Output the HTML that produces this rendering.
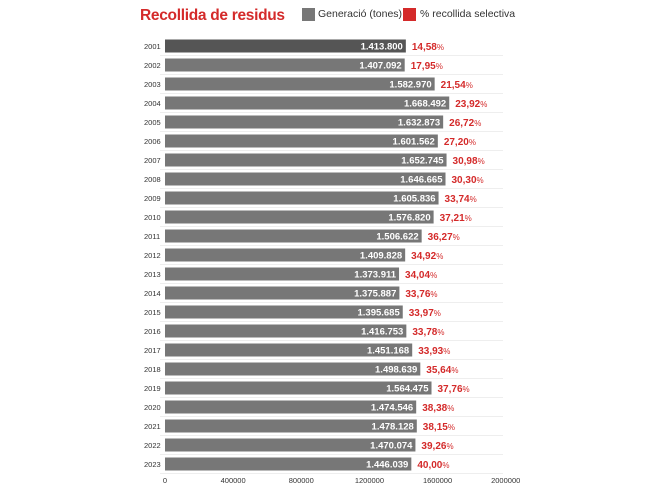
<!DOCTYPE html>
<html><head><style>
body{margin:0;background:#fff;width:650px;height:487px;overflow:hidden;font-family:"Liberation Sans",sans-serif;position:relative}
.t{position:absolute;left:140px;top:7px;font-size:15.5px;font-weight:bold;color:#d42a2a;letter-spacing:-0.3px}
.lg{position:absolute;top:8px;font-size:10.5px;color:#333}
.sq{position:absolute;top:8px;width:13px;height:13px}
</style></head><body>
<div class="t">Recollida de residus</div>
<div class="sq" style="left:302px;background:#777"></div><div class="lg" style="left:318px">Generació (tones)</div>
<div class="sq" style="left:403px;background:#d42a2a"></div><div class="lg" style="left:420px">% recollida selectiva</div>
<svg width="650" height="487" style="position:absolute;left:0;top:0" font-family="Liberation Sans, sans-serif">
<g id="g"></g>
</svg>
<script>
const d=[[2001,1413800,"1.413.800","14,58"],[2002,1407092,"1.407.092","17,95"],[2003,1582970,"1.582.970","21,54"],[2004,1668492,"1.668.492","23,92"],[2005,1632873,"1.632.873","26,72"],[2006,1601562,"1.601.562","27,20"],[2007,1652745,"1.652.745","30,98"],[2008,1646665,"1.646.665","30,30"],[2009,1605836,"1.605.836","33,74"],[2010,1576820,"1.576.820","37,21"],[2011,1506622,"1.506.622","36,27"],[2012,1409828,"1.409.828","34,92"],[2013,1373911,"1.373.911","34,04"],[2014,1375887,"1.375.887","33,76"],[2015,1395685,"1.395.685","33,97"],[2016,1416753,"1.416.753","33,78"],[2017,1451168,"1.451.168","33,93"],[2018,1498639,"1.498.639","35,64"],[2019,1564475,"1.564.475","37,76"],[2020,1474546,"1.474.546","38,38"],[2021,1478128,"1.478.128","38,15"],[2022,1470074,"1.470.074","39,26"],[2023,1446039,"1.446.039","40,00"]];
let s="";const x0=165,k=340.7/2e6;
d.forEach((r,i)=>{const c=46+i*19,w=r[1]*k;
s+=`<line x1="160" x2="503" y1="${c+9.5}" y2="${c+9.5}" stroke="#eee"/>`;
s+=`<text x="144" y="${c+3}" font-size="7.5" fill="#333">${r[0]}</text>`;
s+=`<rect x="${x0}" y="${c-6.5}" width="${w}" height="13" fill="${i?'#777':'#555'}"/>`;
s+=`<text x="${x0+w-3}" y="${c+3.5}" font-size="9.5" font-weight="bold" fill="#fff" text-anchor="end">${r[2]}</text>`;
s+=`<text x="${x0+w+6}" y="${c+4}" font-size="10" font-weight="bold" fill="#d42a2a">${r[3]}<tspan font-size="8" font-weight="normal">%</tspan></text>`;});
[0,400000,800000,1200000,1600000,2000000].forEach(v=>{s+=`<text x="${x0+v*k}" y="483" font-size="7.5" fill="#333" text-anchor="middle">${v}</text>`;});
document.getElementById("g").innerHTML=s;
</script>
</body></html>
